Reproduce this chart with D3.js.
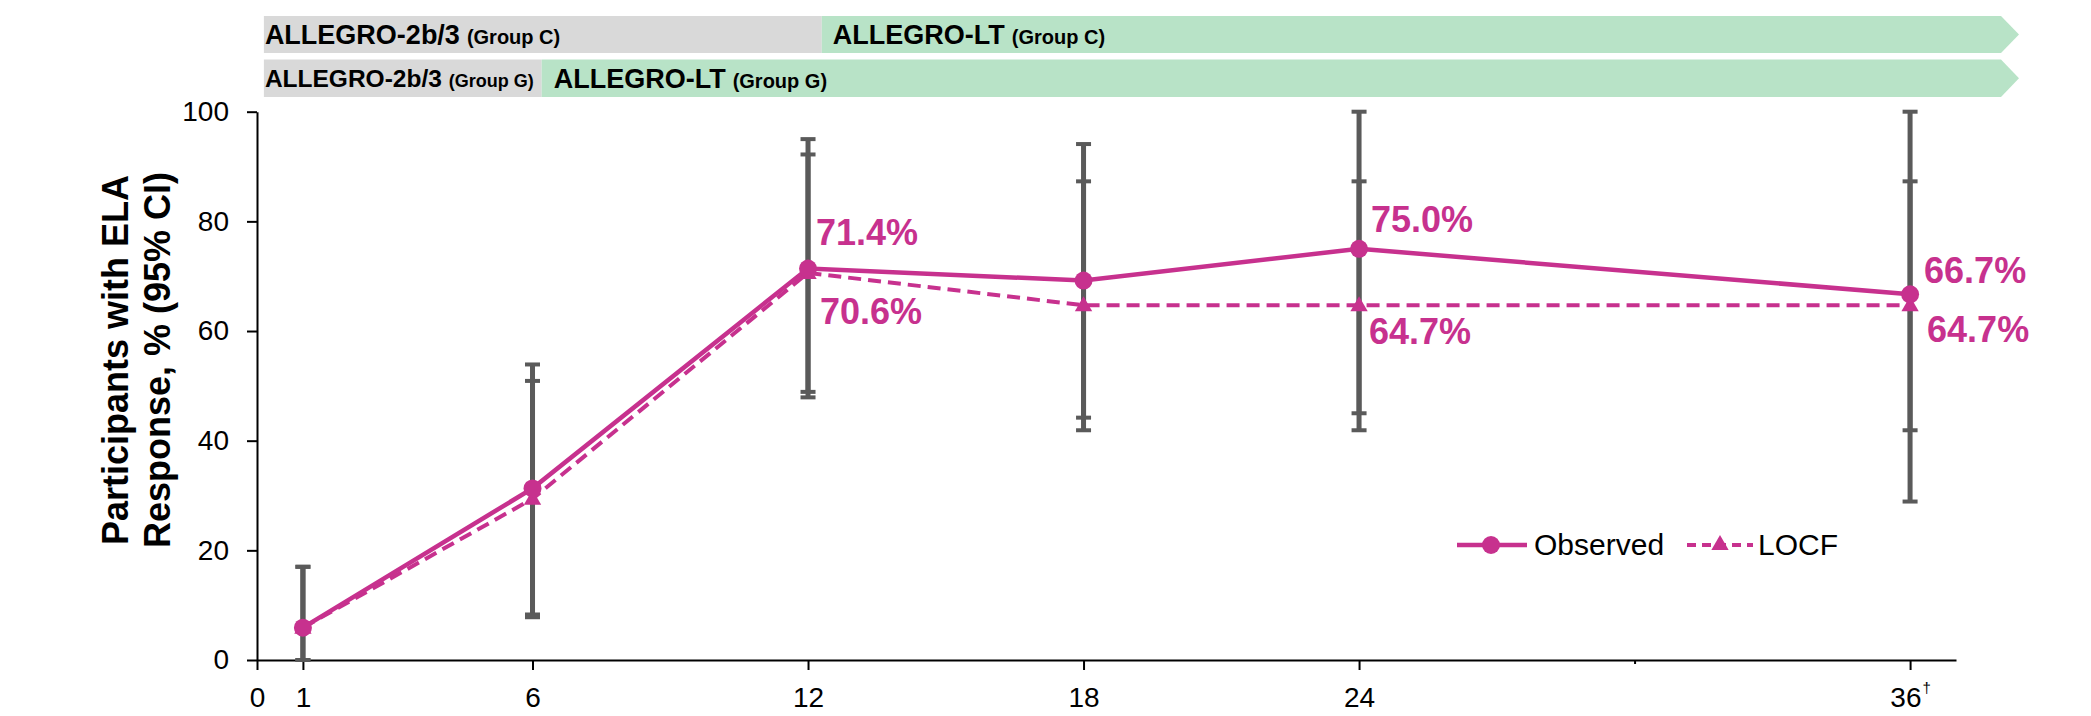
<!DOCTYPE html>
<html>
<head>
<meta charset="utf-8">
<script src="https://cdn.jsdelivr.net/npm/d3@7"></script>
<style>
  html, body { margin: 0; padding: 0; background: #ffffff; }
  svg { display: block; font-family: "Liberation Sans", Arial, Helvetica, sans-serif; }
</style>
</head>
<body>
<svg id="chart" width="2091" height="716"></svg>
<script>
// Months of follow-up
const months = [1, 6, 12, 18, 24, 36];

// ELA response (%) with 95% CI
const observed   = [5.9, 31.3, 71.4, 69.2, 75.0, 66.7];
const observedLo = [0.0, 8.3, 47.9, 44.2, 45.0, 28.9];
const observedHi = [17.0, 53.9, 95.0, 94.1, 100.0, 100.0];

const locf   = [5.9, 29.4, 70.6, 64.7, 64.7, 64.7];
const locfLo = [0.0, 7.8, 48.9, 41.9, 41.9, 41.9];
const locfHi = [17.0, 50.9, 92.2, 87.3, 87.3, 87.3];

// Axis ticks
const xTicks = [0, 1, 6, 12, 18, 24, 30, 36];
const xTickLabels = ["0", "1", "6", "12", "18", "24", "", "36"];
const yTicks = [0, 20, 40, 60, 80, 100];

// Study-phase banners: [label, sub-label, start month, end month]
const bannerC = [["ALLEGRO-2b/3", "(Group C)", 0.15, 12.3], ["ALLEGRO-LT", "(Group C)", 12.3, 37.98]];
const bannerG = [["ALLEGRO-2b/3", "(Group G)", 0.15, 6.2], ["ALLEGRO-LT", "(Group G)", 6.2, 37.98]];

// Which points carry a value label
const observedLabelIdx = [2, 4, 5];
const locfLabelIdx = [2, 4, 5];

const MAGENTA = "#C7318E";
const BAR = "#5A5A5A";
const GREY_BAND = "#D9D9D9";
const GREEN_BAND = "#B8E3C7";

const svg = d3.select("#chart");

const x = d3.scaleLinear().domain([0, 37]).range([257, 1956]);
const y = d3.scaleLinear().domain([0, 100]).range([660, 111.7]);

// ---- banners ----
// fonts: per segment [main size, sub size], pads: left padding per segment
function drawBanner(rows, top, h, fonts, pads) {
  const g = svg.append("g");
  const tip = 18;
  rows.forEach((r, i) => {
    const x0 = x(r[2]), x1 = x(r[3]);
    const last = i === rows.length - 1;
    const fill = i === 0 ? GREY_BAND : GREEN_BAND;
    if (last) {
      g.append("path")
        .attr("d", `M${x0},${top} L${x1},${top} L${x1 + tip},${top + h / 2} L${x1},${top + h} L${x0},${top + h} Z`)
        .attr("fill", fill);
    } else {
      g.append("rect").attr("x", x0).attr("y", top).attr("width", x1 - x0).attr("height", h).attr("fill", fill);
    }
    const t = g.append("text")
      .attr("x", x0 + pads[i])
      .attr("y", top + h / 2 + fonts[i][0] * 0.36)
      .attr("font-weight", "bold")
      .attr("fill", "#000");
    t.append("tspan").attr("font-size", fonts[i][0]).text(r[0]);
    t.append("tspan").attr("font-size", fonts[i][1]).attr("dx", 7).text(r[1]);
  });
}
drawBanner(bannerC, 16, 37, [[27, 20], [27, 20]], [1, 11]);
drawBanner(bannerG, 59.5, 37.5, [[24.5, 18], [27, 20]], [1, 12]);

// ---- axes ----
const xAxis = d3.axisBottom(x)
  .tickValues(xTicks)
  .tickSize(10)
  .tickSizeOuter(0)
  .tickPadding(17)
  .tickFormat((d, i) => xTickLabels[i]);

const gx = svg.append("g").attr("transform", `translate(0,${y(0)})`).call(xAxis);
gx.select(".domain").attr("stroke", "#000").attr("stroke-width", 2);
gx.selectAll(".tick line").attr("stroke", "#000").attr("stroke-width", 2)
  .attr("y2", d => d === 30 ? 4 : 10);
gx.selectAll(".tick text").attr("font-size", 28).attr("fill", "#000")
  .attr("font-family", "'Liberation Sans', Arial, sans-serif");
gx.selectAll(".tick text").filter(d => d === 36)
  .append("tspan").attr("font-size", 15).attr("dy", "-0.9em").attr("dx", 1).text("\u2020");

const yAxis = d3.axisLeft(y)
  .tickValues(yTicks)
  .tickSize(10)
  .tickSizeOuter(0)
  .tickPadding(18);
const gy = svg.append("g").attr("transform", `translate(${x(0)},0)`).call(yAxis);
gy.select(".domain").attr("stroke", "#000").attr("stroke-width", 2);
gy.selectAll(".tick line").attr("stroke", "#000").attr("stroke-width", 2);
gy.selectAll(".tick text").attr("font-size", 28).attr("fill", "#000")
  .attr("font-family", "'Liberation Sans', Arial, sans-serif");

// y-axis title
const title = svg.append("g").attr("transform", "translate(128,360) rotate(-90)");
title.append("text").attr("text-anchor", "middle").attr("font-size", 36).attr("font-weight", "bold")
  .attr("y", 0).text("Participants with ELA");
title.append("text").attr("text-anchor", "middle").attr("font-size", 36).attr("font-weight", "bold")
  .attr("y", 42).text("Response, % (95% CI)");

// ---- error bars ----
const plot = svg.append("g");
function errorBars(lo, hi) {
  const g = plot.append("g");
  months.forEach((m, i) => {
    const cx = x(m);
    g.append("line").attr("x1", cx).attr("x2", cx).attr("y1", y(lo[i])).attr("y2", y(hi[i]))
      .attr("stroke", BAR).attr("stroke-width", 5);
    [lo[i], hi[i]].forEach(v => {
      g.append("line").attr("x1", cx - 7.5).attr("x2", cx + 7.5).attr("y1", y(v)).attr("y2", y(v))
        .attr("stroke", BAR).attr("stroke-width", 4);
    });
  });
}
errorBars(locfLo, locfHi);
errorBars(observedLo, observedHi);

// ---- lines ----
const line = d3.line().x(d => x(d[0])).y(d => y(d[1]));
const locfPts = months.map((m, i) => [m, locf[i]]);
const obsPts = months.map((m, i) => [m, observed[i]]);

plot.append("path").datum(locfPts).attr("d", line).attr("fill", "none")
  .attr("stroke", MAGENTA).attr("stroke-width", 4).attr("stroke-dasharray", "13,7");
plot.append("path").datum(obsPts).attr("d", line).attr("fill", "none")
  .attr("stroke", MAGENTA).attr("stroke-width", 4.5);

const tri = d3.symbol().type(d3.symbolTriangle).size(130);
plot.selectAll(".tri").data(locfPts).enter().append("path")
  .attr("d", tri).attr("fill", MAGENTA)
  .attr("transform", d => `translate(${x(d[0])},${y(d[1]) + 1})`);
plot.selectAll(".dot").data(obsPts).enter().append("circle")
  .attr("cx", d => x(d[0])).attr("cy", d => y(d[1])).attr("r", 9).attr("fill", MAGENTA);

// ---- value labels ----
const obsLabelOffset = { 2: [8, -23.5], 4: [12, -17], 5: [14, -11] };
const locfLabelOffset = { 2: [12, 51], 4: [10, 39], 5: [17, 37] };
function valueLabels(vals, idx, offs) {
  idx.forEach(i => {
    plot.append("text")
      .attr("x", x(months[i]) + offs[i][0])
      .attr("y", y(vals[i]) + offs[i][1])
      .attr("font-size", 36).attr("font-weight", "bold").attr("fill", MAGENTA)
      .text(vals[i].toFixed(1) + "%");
  });
}
valueLabels(observed, observedLabelIdx, obsLabelOffset);
valueLabels(locf, locfLabelIdx, locfLabelOffset);

// ---- legend ----
const lg = svg.append("g").attr("transform", "translate(1457,545)");
lg.append("line").attr("x1", 0).attr("x2", 70).attr("stroke", MAGENTA).attr("stroke-width", 4.5);
lg.append("circle").attr("cx", 34).attr("r", 9).attr("fill", MAGENTA);
lg.append("text").attr("x", 77).attr("y", 10).attr("font-size", 30).text("Observed");
lg.append("line").attr("x1", 230).attr("x2", 296).attr("stroke", MAGENTA).attr("stroke-width", 4)
  .attr("stroke-dasharray", "9,6");
lg.append("path").attr("d", tri).attr("fill", MAGENTA).attr("transform", "translate(263,0)");
lg.append("text").attr("x", 301).attr("y", 10).attr("font-size", 30).text("LOCF");
</script>
</body>
</html>
